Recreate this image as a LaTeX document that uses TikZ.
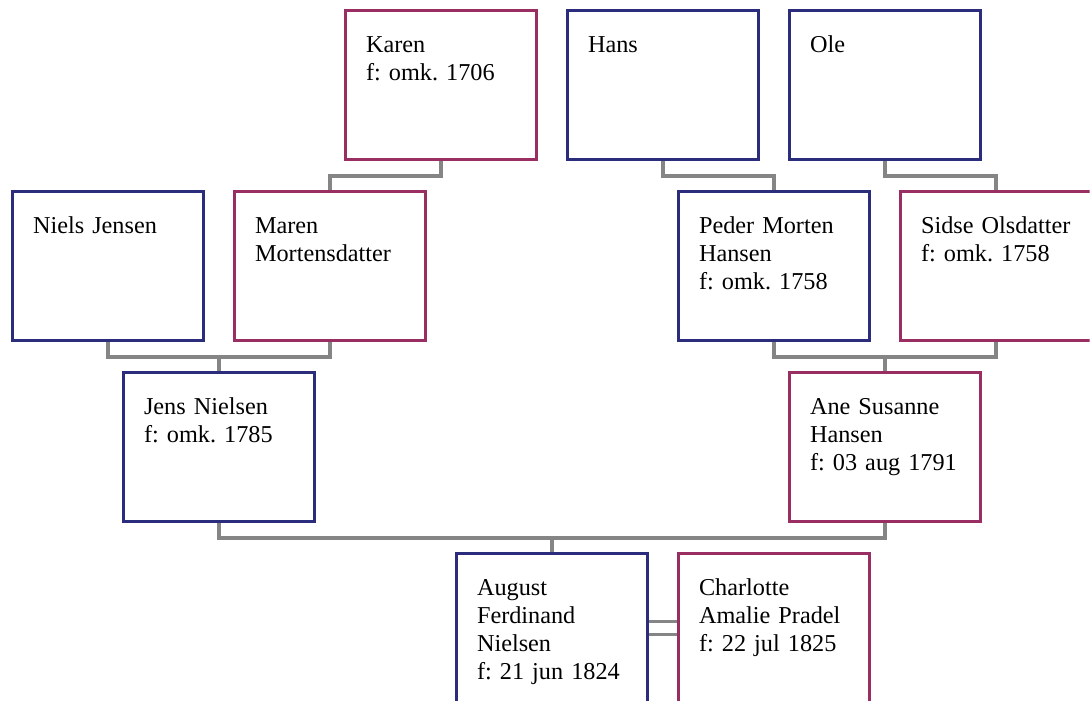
\documentclass[tikz,border=0pt]{standalone}
\usepackage{fontspec}
\setmainfont{Liberation Serif}
\definecolor{mannavy}{RGB}{44,44,124}
\definecolor{womanplum}{RGB}{152,46,98}
\definecolor{linkgray}{RGB}{133,133,133}
\begin{document}
\begin{tikzpicture}[x=0.02cm, y=-0.02cm,
    person/.style={draw, line width=1.6pt, fill=white, align=left,
      text width=3.0cm, text height=0.4cm, text depth=1.72cm,
      inner xsep=0.41cm, inner ysep=0.43cm,
      minimum width=3.82cm, minimum height=2.98cm,
      font={\fontsize{13.8}{16}\selectfont\frenchspacing\hyphenpenalty10000\relax}},
    man/.style={person, draw=mannavy},
    woman/.style={person, draw=womanplum},
    link/.style={draw=linkgray, line width=1.9pt}]
  \useasboundingbox (0,0) rectangle (1091,704);
  \clip (0,0) rectangle (1089.6,700.6);
  \node[woman] (karen) at (441,85) {Karen\\f: omk. 1706};
  \node[man] (hans) at (663,85) {Hans};
  \node[man] (ole) at (885,85) {Ole};
  \node[man] (niels) at (108,266) {Niels Jensen};
  \node[woman] (maren) at (330,266) {Maren\\Mortensdatter};
  \node[man] (peder) at (774,266) {Peder Morten\\Hansen\\f: omk. 1758};
  \node[woman] (sidse) at (996,266) {Sidse Olsdatter\\f: omk. 1758};
  \node[man] (jens) at (219,447) {Jens Nielsen\\f: omk. 1785};
  \node[woman] (ane) at (885,447) {Ane Susanne\\Hansen\\f: 03 aug 1791};
  \node[man] (august) at (552,628) {August\\Ferdinand\\Nielsen\\f: 21 jun 1824};
  \node[woman] (charlotte) at (774,628) {Charlotte\\Amalie Pradel\\f: 22 jul 1825};
  \draw[link] (karen.south) -- ++(0,15) -| (maren.north);
  \draw[link] (hans.south) -- ++(0,15) -| (peder.north);
  \draw[link] (ole.south) -- ++(0,15) -| (sidse.north);
  \draw[link] (niels.south) -- ++(0,15) -| (maren.south) (jens.north) -- ++(0,-14);
  \draw[link] (peder.south) -- ++(0,15) -| (sidse.south) (ane.north) -- ++(0,-14);
  \draw[link] (jens.south) -- ++(0,15) -| (ane.south) (august.north) -- ++(0,-14);
  \draw[link, double, double distance=0.2cm] (august) -- (charlotte);
\end{tikzpicture}
\end{document}
